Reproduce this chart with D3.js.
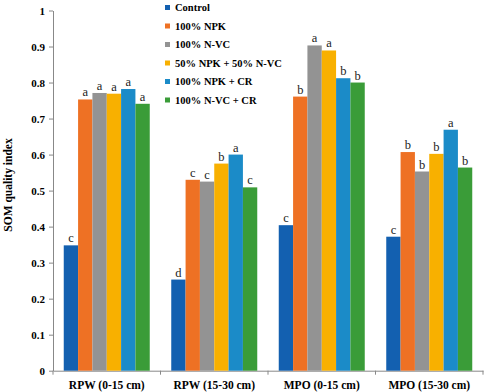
<!DOCTYPE html>
<html><head><meta charset="utf-8">
<script src="https://cdn.jsdelivr.net/npm/d3@7"></script>
<style>body{margin:0;background:#fff}svg{display:block}</style>
</head><body>
<svg id="c" width="484" height="392"></svg>
<script>
const categories = ["RPW (0-15 cm)", "RPW (15-30 cm)", "MPO (0-15 cm)", "MPO (15-30 cm)"];
const seriesNames = ["Control", "100% NPK", "100% N-VC", "50% NPK + 50% N-VC", "100% NPK + CR", "100% N-VC + CR"];
const colors = ["#1360b0", "#ee7124", "#939393", "#f8b000", "#1b8bc8", "#3a9c38"];
const control = [0.348, 0.253, 0.404, 0.372];
const npk = [0.753, 0.530, 0.761, 0.607];
const nvc = [0.771, 0.525, 0.903, 0.553];
const npkNvc = [0.769, 0.575, 0.889, 0.602];
const npkCr = [0.782, 0.600, 0.812, 0.669];
const nvcCr = [0.741, 0.509, 0.800, 0.564];
const letters = [
  ["c","d","c","c"],
  ["a","c","b","b"],
  ["a","c","a","b"],
  ["a","b","a","b"],
  ["a","a","b","a"],
  ["a","c","b","b"]
];
const yTicks = [0, 0.1, 0.2, 0.3, 0.4, 0.5, 0.6, 0.7, 0.8, 0.9, 1];
const series = [control, npk, nvc, npkNvc, npkCr, nvcCr];
const FF = "'Liberation Serif', 'Times New Roman', serif";

const svg = d3.select("#c").attr("font-family", FF);
const x0 = d3.scaleBand().domain(categories).range([53, 483]).paddingInner(0.2).paddingOuter(0.1);
const x1 = d3.scaleBand().domain(d3.range(seriesNames.length)).range([0, x0.bandwidth()]);
const y = d3.scaleLinear().domain([0, 1]).range([370.7, 10.5]);

const yAxis = svg.append("g").attr("transform", "translate(53,0)")
  .call(d3.axisLeft(y).tickValues(yTicks).tickFormat(d3.format("~g")).tickSize(4).tickSizeOuter(0))
  .attr("font-family", FF);
yAxis.select(".domain").attr("stroke", "#888");
yAxis.selectAll(".tick line").attr("stroke", "#888");
yAxis.selectAll("text").attr("font-weight", "bold").attr("font-size", "11px").attr("fill", "#000").attr("x", -8).attr("dy", "0.35em");

const xAxis = svg.append("g").attr("transform", "translate(0,370.7)")
  .call(d3.axisBottom(x0).tickSize(0).tickSizeOuter(0))
  .attr("font-family", FF);
xAxis.select(".domain").attr("stroke", "#888");
xAxis.selectAll("text").attr("font-weight", "bold").attr("font-size", "11.5px").attr("fill", "#000").attr("dy", "0").attr("y", 18);
svg.append("g").selectAll("line").data(d3.range(categories.length + 1)).join("line")
  .attr("x1", i => 53 + i * (430 / 4)).attr("x2", i => 53 + i * (430 / 4))
  .attr("y1", 370.7).attr("y2", 374.7).attr("stroke", "#888");

const g = svg.append("g");
series.forEach((vals, s) => {
  vals.forEach((v, c) => {
    const bx = x0(categories[c]) + x1(s);
    g.append("rect").attr("x", bx).attr("y", y(v)).attr("width", x1.bandwidth()).attr("height", y(0) - y(v)).attr("fill", colors[s]);
    g.append("text").attr("x", bx + x1.bandwidth() / 2).attr("y", y(v) - 3).attr("text-anchor", "middle")
      .attr("font-size", "12.5px").attr("fill", "#222").text(letters[s][c]);
  });
});

svg.append("text").attr("transform", "translate(12,185) rotate(-90)").attr("text-anchor", "middle")
  .attr("font-weight", "bold").attr("font-size", "11.5px").text("SOM quality index");

const leg = svg.append("g");
seriesNames.forEach((n, i) => {
  const yy = 7.5 + i * 18.5;
  leg.append("rect").attr("x", 165).attr("y", yy - 2.5).attr("width", 5).attr("height", 5).attr("fill", colors[i]);
  leg.append("text").attr("x", 175).attr("y", yy).attr("dy", "0.35em").attr("font-weight", "bold").attr("font-size", "10.5px").text(n);
});
</script>
</body></html>
